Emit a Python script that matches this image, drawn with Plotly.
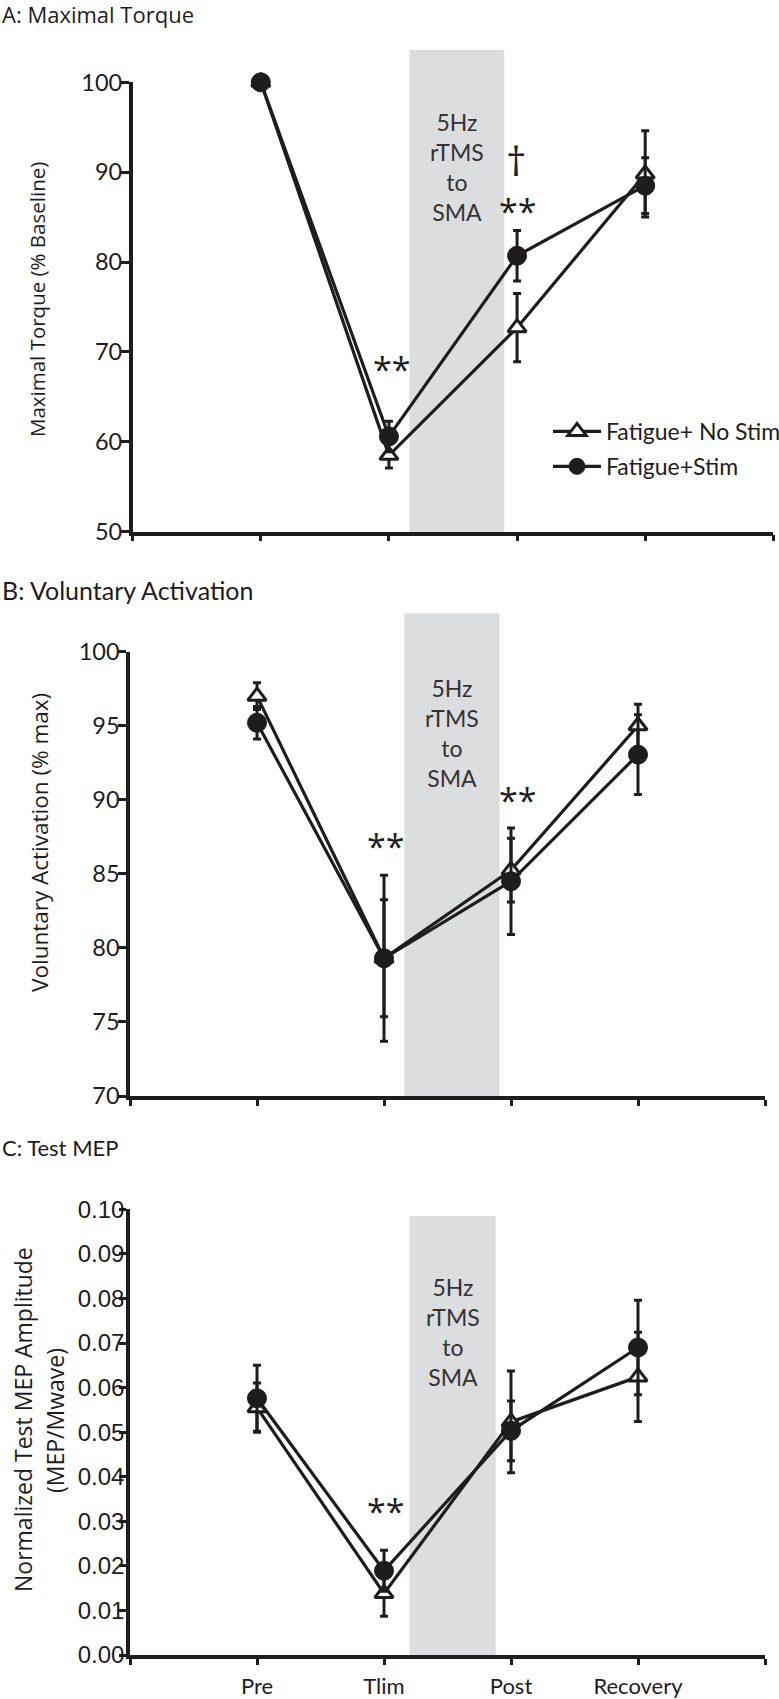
import plotly.graph_objects as go

W, H = 779, 1699

# ---------------- data ----------------
categories = ["Pre", "Tlim", "Post", "Recovery"]

torque_nostim = [100.0, 58.5, 72.7, 89.8]
torque_nostim_err = [0.0, 1.4, 3.8, 4.8]
torque_stim = [100.0, 60.6, 80.7, 88.5]
torque_stim_err = [0.0, 1.7, 2.8, 3.1]

va_nostim = [97.0, 79.3, 85.25, 95.0]
va_nostim_err = [0.9, 5.6, 2.15, 1.45]
va_stim = [95.2, 79.3, 84.5, 93.05]
va_stim_err = [1.1, 3.95, 3.6, 2.7]

mep_nostim = [0.0555, 0.0138, 0.0523, 0.0624]
mep_nostim_err = [0.0055, 0.0051, 0.0114, 0.0100]
mep_stim = [0.0576, 0.0189, 0.0503, 0.0690]
mep_stim_err = [0.0074, 0.0046, 0.0067, 0.0106]

# rTMS window (x from, x to, y top) per panel
shade_A = [2.16, 2.90, 103.6]
shade_B = [2.16, 2.91, 102.6]
shade_C = [2.20, 2.88, 0.0985]
shade_label = "5Hz<br>rTMS<br>to<br>SMA"

# significance marks: (text, x, y, size)
marks_A = [("**", 2.02, 68.1, 34), ("†", 2.99, 91.3, 40), ("**", 3.0, 85.7, 34)]
marks_B = [("**", 2.01, 86.9, 34), ("**", 3.05, 90.0, 34)]
marks_C = [("**", 2.01, 0.0324, 34)]

# ---------------- helpers ----------------
INK = "#1e1c1d"
SHADE = "#dcdddf"


def pxx(x):
    return x / W


def pyy(y):
    return 1 - y / H


xs = [i + 1 for i in range(len(categories))]
XR = [0, 5]

fig = go.Figure()


def add_pair(xa, ya, nostim, nostim_err, stim, stim_err, show):
    fig.add_trace(go.Scatter(
        x=xs, y=nostim, mode="lines+markers", name="Fatigue+ No Stim",
        legendgroup="nostim", showlegend=show, cliponaxis=False,
        line=dict(color=INK, width=3.2),
        marker=dict(symbol="triangle-up", size=16, color="white",
                    line=dict(color=INK, width=3)),
        error_y=dict(type="data", array=nostim_err, color=INK, thickness=3, width=4),
        xaxis=xa, yaxis=ya, hoverinfo="skip"))
    fig.add_trace(go.Scatter(
        x=xs, y=stim, mode="lines+markers", name="Fatigue+Stim",
        legendgroup="stim", showlegend=show, cliponaxis=False,
        line=dict(color=INK, width=3.2),
        marker=dict(symbol="circle", size=19, color=INK,
                    line=dict(color=INK, width=1)),
        error_y=dict(type="data", array=stim_err, color=INK, thickness=3, width=4),
        xaxis=xa, yaxis=ya, hoverinfo="skip"))


add_pair("x", "y", torque_nostim, torque_nostim_err, torque_stim, torque_stim_err, True)
add_pair("x2", "y2", va_nostim, va_nostim_err, va_stim, va_stim_err, False)
add_pair("x3", "y3", mep_nostim, mep_nostim_err, mep_stim, mep_stim_err, False)

# ---------------- axes ----------------
def xaxis(dom, labels, anchor):
    return dict(domain=[pxx(dom[0]), pxx(dom[1])], range=XR, anchor=anchor,
                showline=True, linewidth=3.5, linecolor=INK,
                ticks="outside", ticklen=6, tickwidth=3, tickcolor=INK,
                tickvals=[0, 1, 2, 3, 4, 5],
                ticktext=([""] + categories + [""]) if labels else [""] * 6,
                tickfont=dict(family="Lato", size=22, color=INK),
                ticklabelstandoff=3,
                showgrid=False, zeroline=False, fixedrange=True)


def yaxis(dom, rng, vals, font, anchor, fmt=None, ticklen=8, standoff=0):
    d = dict(domain=[pyy(dom[0]), pyy(dom[1])], range=rng, anchor=anchor,
             showline=True, linewidth=3.5, linecolor=INK,
             ticks="outside", ticklen=ticklen, tickwidth=3, tickcolor=INK,
             tickvals=vals, tickfont=font, ticklabelstandoff=standoff,
             showgrid=False, zeroline=False, fixedrange=True)
    if fmt:
        d["tickformat"] = fmt
    return d


A_x, A_y = (132.7, 773.3), (531.7, 82.3)
B_x, B_y = (130.0, 765.0), (1096.0, 651.7)
C_x, C_y = (130.0, 765.0), (1655.0, 1209.3)

yA = [50, 60, 70, 80, 90, 100]
yB = [70, 75, 80, 85, 90, 95, 100]
yC = [0.00, 0.01, 0.02, 0.03, 0.04, 0.05, 0.06, 0.07, 0.08, 0.09, 0.10]

fig.update_layout(
    xaxis=xaxis(A_x, False, "y"),
    yaxis=yaxis(A_y, [50, 100], yA, dict(family="Lato", size=23.5, color=INK), "x",
                standoff=-6),
    xaxis2=xaxis(B_x, False, "y2"),
    yaxis2=yaxis(B_y, [70, 100], yB, dict(family="Lato", size=23.5, color=INK), "x2",
                 standoff=-6),
    xaxis3=xaxis(C_x, True, "y3"),
    yaxis3=yaxis(C_y, [0, 0.1], yC, dict(family="Liberation Sans", size=24, color=INK),
                  "x3", fmt=".2f", ticklen=7, standoff=-10),
)

# ---------------- shaded rTMS windows ----------------
shapes = []
annotations = []
for (sh, sfx, ylo, yhi) in [(shade_A, "", 50, 100),
                            (shade_B, "2", 70, 100),
                            (shade_C, "3", 0, 0.1)]:
    shapes.append(dict(
        type="rect", xref="x%s domain" % sfx, yref="y%s domain" % sfx,
        x0=(sh[0] - XR[0]) / (XR[1] - XR[0]), x1=(sh[1] - XR[0]) / (XR[1] - XR[0]),
        y0=0, y1=(sh[2] - ylo) / (yhi - ylo),
        fillcolor=SHADE, line=dict(width=0), layer="below"))

shade_text_y = {"": 90.6, "2": 94.5, "3": 0.0724}
for sh, sfx in [(shade_A, ""), (shade_B, "2"), (shade_C, "3")]:
    annotations.append(dict(
        text=shade_label, x=(sh[0] + sh[1]) / 2, y=shade_text_y[sfx],
        xref="x" + sfx, yref="y" + sfx, showarrow=False,
        xanchor="center", yanchor="middle", align="center",
        font=dict(family="Lato", size=23, color="#333333")))

for marks, sfx in [(marks_A, ""), (marks_B, "2"), (marks_C, "3")]:
    for txt, mx, my, msize in marks:
        annotations.append(dict(
            text=txt, x=mx, y=my, xref="x" + sfx, yref="y" + sfx, showarrow=False,
            xanchor="center", yanchor="middle",
            font=dict(family="Open Sans", size=msize, color=INK)))

# panel titles
for txt, ty, fam, size in [("A: Maximal Torque", 14, "Open Sans", 22),
                           ("B: Voluntary Activation", 590, "Lato", 25),
                           ("C: Test MEP", 1147, "Lato", 22)]:
    annotations.append(dict(text=txt, x=pxx(0), y=pyy(ty), xref="paper", yref="paper",
                            showarrow=False, xanchor="left", yanchor="middle",
                            font=dict(family=fam, size=size, color=INK)))

# y-axis titles
for txt, tx, ty, size in [("Maximal Torque (% Baseline)", 37, 300, 20.5),
                          ("Voluntary Activation (% max)", 40, 843, 22.5),
                          ("Normalized Test MEP Amplitude", 23, 1420, 23),
                          ("(MEP/Mwave)", 55, 1420, 23)]:
    annotations.append(dict(text=txt, x=pxx(tx), y=pyy(ty), xref="paper", yref="paper",
                            showarrow=False, xanchor="center", yanchor="middle",
                            textangle=-90,
                            font=dict(family="Open Sans", size=size, color=INK)))

fig.update_layout(
    width=W, height=H,
    margin=dict(l=0, r=0, t=0, b=0, autoexpand=False),
    paper_bgcolor="white", plot_bgcolor="white",
    shapes=shapes, annotations=annotations,
    showlegend=True,
    legend=dict(x=pxx(548), y=pyy(410), xanchor="left", yanchor="top",
                font=dict(family="Lato", size=23, color=INK),
                bgcolor="rgba(0,0,0,0)", tracegroupgap=2, itemwidth=48,
                traceorder="grouped"),
)

fig.write_html("out.html", config={"displayModeBar": False},
               post_script="document.body.style.margin='0';document.body.style.padding='0';")
